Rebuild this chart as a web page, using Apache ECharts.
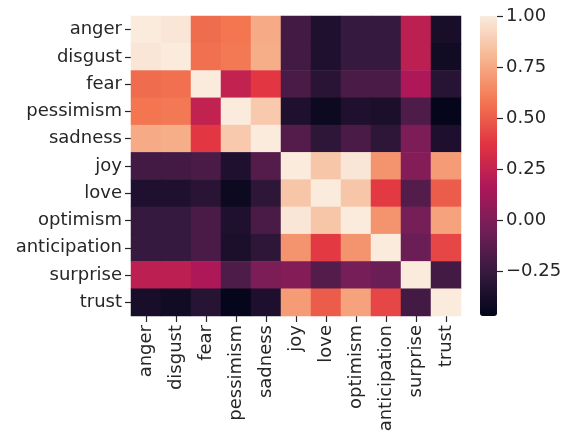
<!DOCTYPE html>
<html>
<head>
<meta charset="utf-8">
<script src="https://cdn.jsdelivr.net/npm/echarts@6/dist/echarts.min.js"></script>
<style>
  html, body { margin: 0; padding: 0; background: #fff; }
  #chart { width: 567px; height: 436px; }
</style>
</head>
<body>
<div id="chart"></div>
<script>
var emotions = ['anger', 'disgust', 'fear', 'pessimism', 'sadness', 'joy', 'love', 'optimism', 'anticipation', 'surprise', 'trust'];

// correlation rows, same order as emotions
var corr = [
    [1.00, 0.98, 0.55, 0.58, 0.76, -0.21, -0.35, -0.26, -0.26, 0.22, -0.38],
    [0.98, 1.00, 0.56, 0.59, 0.77, -0.21, -0.35, -0.26, -0.26, 0.22, -0.41],
    [0.55, 0.56, 1.00, 0.24, 0.38, -0.19, -0.31, -0.19, -0.18, 0.17, -0.32],
    [0.58, 0.59, 0.24, 1.00, 0.87, -0.35, -0.43, -0.35, -0.37, -0.17, -0.46],
    [0.76, 0.77, 0.38, 0.87, 1.00, -0.15, -0.29, -0.18, -0.29, -0.01, -0.36],
    [-0.21, -0.21, -0.19, -0.35, -0.15, 1.00, 0.86, 0.98, 0.68, 0.02, 0.71],
    [-0.35, -0.35, -0.31, -0.43, -0.29, 0.86, 1.00, 0.86, 0.39, -0.15, 0.50],
    [-0.26, -0.26, -0.19, -0.35, -0.18, 0.98, 0.86, 1.00, 0.68, -0.03, 0.73],
    [-0.26, -0.26, -0.18, -0.37, -0.29, 0.68, 0.39, 0.68, 1.00, -0.07, 0.43],
    [0.22, 0.22, 0.17, -0.17, -0.01, 0.02, -0.15, -0.03, -0.07, 1.00, -0.21],
    [-0.38, -0.41, -0.32, -0.46, -0.36, 0.71, 0.50, 0.73, 0.43, -0.21, 1.00]
];

var colorTicks = [-0.25, 0, 0.25, 0.5, 0.75, 1];
var vMin = -0.47;
var vMax = 1.0;

// seaborn "rocket"
var rocket = ['#03051a', '#35193e', '#701f57', '#ad1759', '#e13342', '#f37651', '#f6b48f', '#faebdd'];

var main = function () {
    var textColor = '#262626';
    var font = 'DejaVu Sans';

    var cells = [];
    corr.forEach(function (row, i) {
        row.forEach(function (v, j) {
            cells.push([j, i, v]);
        });
    });

    var fmt = function (v) {
        return v.toFixed(2).replace('-', '\u2212');
    };

    var chart = echarts.init(document.getElementById('chart'), null, {renderer: 'canvas'});
    var option = {
        animation: false,
        backgroundColor: '#fff',
        textStyle: {fontFamily: font},
        grid: [
            {left: 131, top: 16, width: 330, height: 300},
            {left: 480, top: 16, width: 17, height: 300}
        ],
        xAxis: [
            {
                type: 'category', gridIndex: 0, data: emotions,
                axisLine: {show: false},
                axisTick: {show: true, alignWithLabel: true, length: 6, lineStyle: {color: textColor, width: 1.2}},
                axisLabel: {rotate: 90, fontSize: 18, color: textColor, fontFamily: font, margin: 9, interval: 0},
                splitLine: {show: false}
            },
            {type: 'value', gridIndex: 1, show: false, min: 0, max: 1}
        ],
        yAxis: [
            {
                type: 'category', gridIndex: 0, data: emotions, inverse: true,
                axisLine: {show: false},
                axisTick: {show: true, alignWithLabel: true, length: 6, lineStyle: {color: textColor, width: 1.2}},
                axisLabel: {fontSize: 18, color: textColor, fontFamily: font, margin: 9, interval: 0},
                splitLine: {show: false}
            },
            {
                type: 'value', gridIndex: 1, position: 'right', min: vMin, max: vMax,
                axisLine: {show: false, onZero: false},
                axisTick: {show: true, inside: false, length: 6, customValues: colorTicks, lineStyle: {color: textColor, width: 1.2}},
                axisLabel: {fontSize: 18, color: textColor, fontFamily: font, margin: 9, customValues: colorTicks, formatter: fmt},
                splitLine: {show: false}
            }
        ],
        visualMap: {
            type: 'continuous',
            min: vMin, max: vMax,
            seriesIndex: 0,
            calculable: false,
            hoverLink: false,
            left: 480, top: 16,
            itemWidth: 17, itemHeight: 300,
            padding: 0,
            inRange: {color: rocket}
        },
        series: [{
            type: 'heatmap',
            xAxisIndex: 0, yAxisIndex: 0,
            data: cells,
            itemStyle: {borderWidth: 0},
            emphasis: {disabled: true}
        }]
    };
    chart.setOption(option);
}();
</script>
</body>
</html>
